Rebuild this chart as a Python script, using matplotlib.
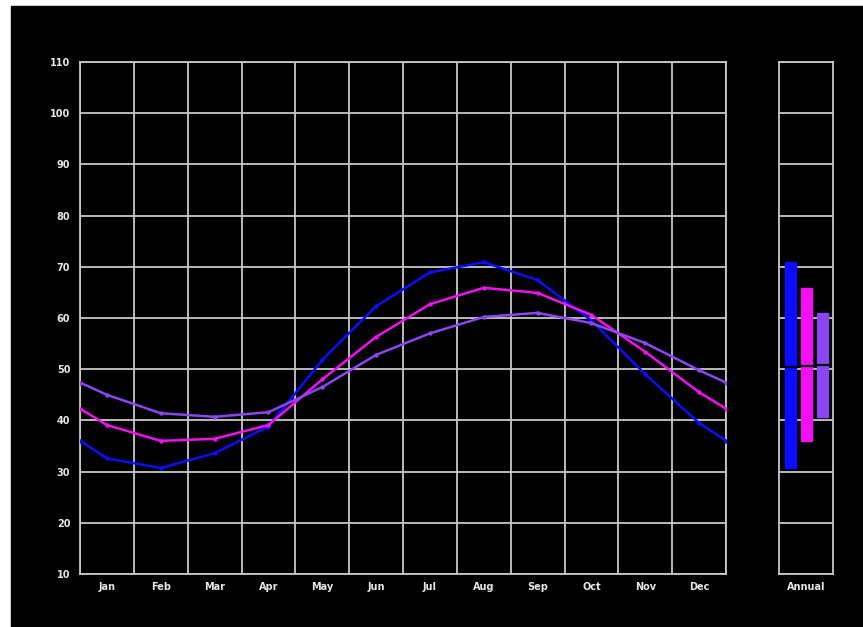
import matplotlib
matplotlib.use("Agg")
import matplotlib.pyplot as plt
from matplotlib.patches import Rectangle
import numpy as np

months = ['Jan', 'Feb', 'Mar', 'Apr', 'May', 'Jun',
          'Jul', 'Aug', 'Sep', 'Oct', 'Nov', 'Dec']
blue_vals = [32.6, 30.7, 33.6, 38.8, 51.8, 62.3, 68.9, 70.9, 67.4, 59.5, 49.0, 39.5]
magenta_vals = [39.1, 36.0, 36.4, 39.1, 48.0, 56.3, 62.7, 65.9, 64.9, 60.6, 53.4, 45.5]
purple_vals = [45.0, 41.4, 40.7, 41.6, 46.5, 52.8, 57.0, 60.2, 61.0, 59.0, 55.1, 49.8]
yticks = list(range(10, 111, 10))

series = [blue_vals, magenta_vals, purple_vals]
colors = ['#0c0cff', '#f010f0', '#8a46f0']
grid_c = '#c8c8c8'
text_c = '#e6e6e6'

plt.rcParams['font.weight'] = 'bold'

fig = plt.figure(figsize=(8.63, 6.27), dpi=100, facecolor='white')
# black panel (white strip at top and left of the original)
fig.patches.append(Rectangle((11 / 863, 0), 1 - 11 / 863, 621 / 627,
                             transform=fig.transFigure, color='black', zorder=-5))

ax = fig.add_axes([80 / 863, 53 / 627, 646 / 863, 512 / 627])
ax2 = fig.add_axes([779 / 863, 53 / 627, 54 / 863, 512 / 627])

for a in (ax, ax2):
    a.set_facecolor('black')
    a.set_ylim(10, 110)
    a.set_yticks(yticks)
    for s in a.spines.values():
        s.set_color(grid_c)
        s.set_linewidth(1.3)
    a.tick_params(length=0, colors=text_c, labelsize=7)
    a.grid(axis='y', color=grid_c, linewidth=1.3)
    a.set_axisbelow(True)

# main monthly panel
ax.set_xlim(0, 12)
ax.set_xticks(np.arange(13))
ax.set_xticklabels([])
ax.set_xticks(np.arange(12) + 0.5, minor=True)
ax.set_xticklabels(months, minor=True)
ax.tick_params(which='minor', length=0, colors=text_c, labelsize=7, pad=6)
ax.grid(axis='x', color=grid_c, linewidth=1.3)
ax.set_yticklabels([str(v) for v in yticks])
ax.tick_params(axis='y', pad=7)

for vals, c in zip(series, colors):
    v = np.array(vals)
    edge = (v[0] + v[-1]) / 2
    xs = np.concatenate([[0], np.arange(12) + 0.5, [12]])
    ys = np.concatenate([[edge], v, [edge]])
    ax.plot(xs, ys, color=c, linewidth=1.8, marker='o', markersize=2.2, zorder=3)

# annual panel: min-max bars with mean mark
pos = np.arange(len(series))
ax2.set_xlim(-0.72, 2.66)
ax2.set_xticks([1])
ax2.set_xticklabels(['Annual'])
ax2.tick_params(axis='x', pad=6)
ax2.set_yticklabels([])
for p, vals, c in zip(pos, series, colors):
    lo, hi = min(vals), max(vals)
    ax2.bar(p, hi - lo, bottom=lo, width=0.69, color=c, edgecolor=c, zorder=3)
    ax2.plot([p - 0.345, p + 0.345], [np.mean(vals)] * 2, color='black',
             linewidth=1.6, zorder=4)

fig.savefig('out.png', dpi=100, facecolor=fig.get_facecolor())
